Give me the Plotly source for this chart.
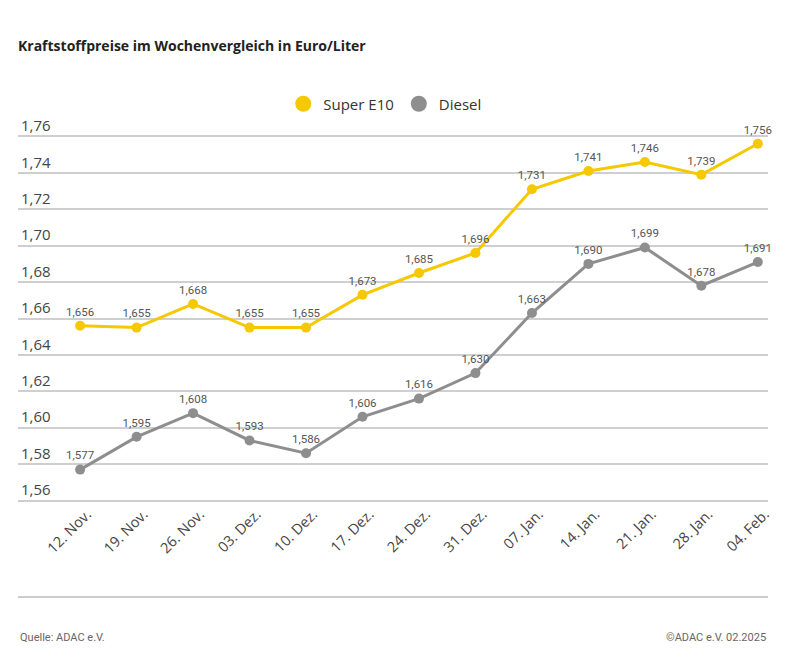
import plotly.graph_objects as go

categories = ["12. Nov.", "19. Nov.", "26. Nov.", "03. Dez.", "10. Dez.", "17. Dez.",
              "24. Dez.", "31. Dez.", "07. Jan.", "14. Jan.", "21. Jan.", "28. Jan.", "04. Feb."]
super_e10 = [1.656, 1.655, 1.668, 1.655, 1.655, 1.673, 1.685, 1.696, 1.731, 1.741, 1.746, 1.739, 1.756]
diesel = [1.577, 1.595, 1.608, 1.593, 1.586, 1.606, 1.616, 1.630, 1.663, 1.690, 1.699, 1.678, 1.691]
y_ticks = [1.56, 1.58, 1.60, 1.62, 1.64, 1.66, 1.68, 1.70, 1.72, 1.74, 1.76]

YELLOW = "#F5C800"
GRAY = "#8E8E8E"
FONT = "Open Sans"

# page body has an ~8px offset; layout positions below are compensated
OFF = 8
PLOT_TOP, PLOT_BOTTOM, PLOT_LEFT, PLOT_RIGHT = 135 - OFF, 502 - OFF, 18 - OFF, 768 - OFF
PH = PLOT_BOTTOM - PLOT_TOP


def fmt(v):
    return f"{v:.3f}".replace(".", ",")


fig = go.Figure()
x_idx = list(range(len(categories)))
for name, vals, col in [("Super E10", super_e10, YELLOW), ("Diesel", diesel, GRAY)]:
    fig.add_trace(go.Scatter(
        x=x_idx, y=vals, mode="lines+markers+text", name=name,
        line=dict(color=col, width=3), marker=dict(color=col, size=10),
        text=[fmt(v) for v in vals], textposition="top center",
        textfont=dict(family="Roboto", size=11.5, color="#555555"),
        showlegend=False, cliponaxis=False))
    fig.add_trace(go.Scatter(
        x=[None], y=[None], mode="markers", name=name,
        marker=dict(color=col, size=17), showlegend=True))

fig.update_layout(
    width=804, height=658,
    paper_bgcolor="white", plot_bgcolor="white",
    margin=dict(l=PLOT_LEFT, r=804 - PLOT_RIGHT, t=PLOT_TOP, b=658 - PLOT_BOTTOM, autoexpand=False),
    separators=",.",
    font=dict(family=FONT, color="#333333"),
    title=dict(text="<b>Kraftstoffpreise im Wochenvergleich in Euro/Liter</b>",
               xref="container", yref="container", pad=dict(l=0, t=0, r=0, b=0),
               x=(18 - OFF) / 804, xanchor="left", y=1 - (46 - OFF) / 658, yanchor="middle",
               font=dict(family=FONT, size=14, color="#222222")),
    legend=dict(orientation="h", x=0.489, xanchor="center", y=1 - 96 / 658, yref="container",
                yanchor="middle", font=dict(family=FONT, size=15, color="#333333"),
                itemsizing="trace", itemwidth=30, traceorder="normal"),
    xaxis=dict(tickmode="array", tickvals=x_idx, ticktext=categories, range=[-1.1, 12.18],
               tickangle=-45, showgrid=False, zeroline=False, showline=False, automargin=False,
               ticks="", ticklabelshift=7, ticklabelstandoff=0,
               tickfont=dict(family=FONT, size=14.5, color="#444444")),
    yaxis=dict(range=[1.5592, 1.7608], tickvals=y_ticks, tickformat=".2f", automargin=False,
               ticklabelposition="inside top", ticklabeloverflow="allow",
               showgrid=True, gridcolor="#CFCFCF", gridwidth=1.5,
               zeroline=False, showline=False,
               tickfont=dict(family=FONT, size=15, color="#444444")),
)

fig.add_shape(type="line", xref="paper", yref="paper", x0=0, x1=1,
              y0=-(597 - 502) / PH, y1=-(597 - 502) / PH,
              line=dict(color="#CCCCCC", width=2))
fig.add_annotation(text="Quelle: ADAC e.V.", xref="paper", yref="paper", x=0, xanchor="left",
                   y=-(637 - 502) / PH, yanchor="middle", showarrow=False,
                   font=dict(family="Roboto", size=11, color="#666666"))
fig.add_annotation(text="©ADAC e.V. 02.2025", xref="paper", yref="paper", x=1, xanchor="right",
                   y=-(637 - 502) / PH, yanchor="middle", showarrow=False,
                   font=dict(family="Roboto", size=11, color="#666666"))

fig.write_html("out.html")
